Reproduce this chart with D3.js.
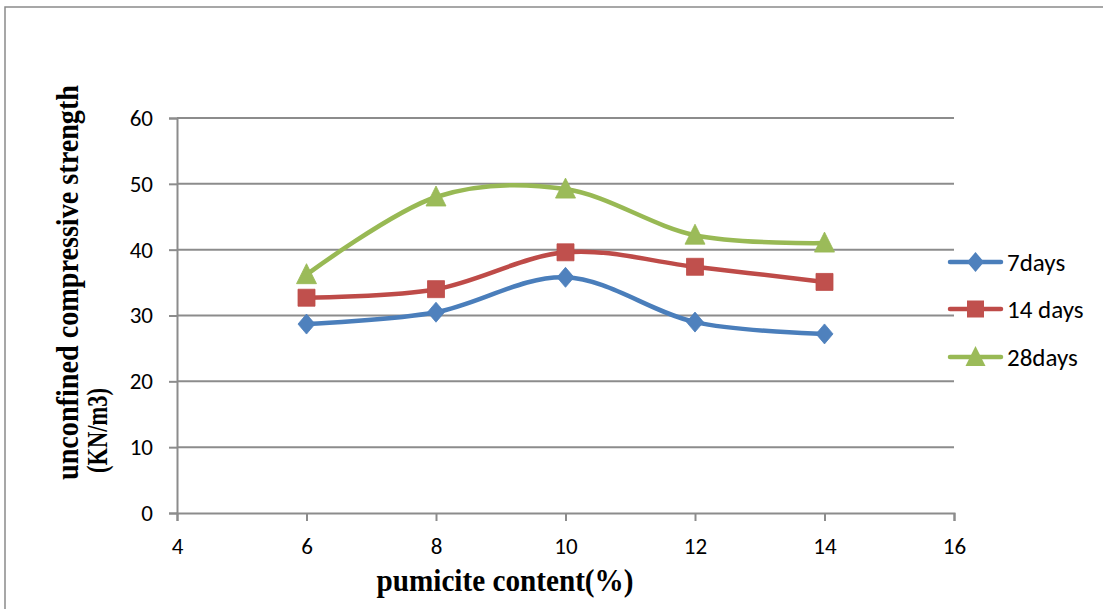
<!DOCTYPE html>
<html>
<head>
<meta charset="utf-8">
<script src="https://cdn.jsdelivr.net/npm/d3@7"></script>
<style>
  html, body { margin: 0; padding: 0; background: #fff; }
  svg { display: block; }
  .tick text { font-family: Carlito, Lato, sans-serif; font-size: 23px; fill: #000; }
</style>
</head>
<body>
<svg id="chart" width="1103" height="609"></svg>
<script>
// Pumicite content (%) on the x axis
const pumicite = [6, 8, 10, 12, 14];

// Unconfined compressive strength per curing period
const days7  = [28.7, 30.5, 35.8, 29.0, 27.2];
const days14 = [32.7, 34.0, 39.6, 37.4, 35.1];
const days28 = [36.2, 48.0, 49.2, 42.2, 41.0];

const seriesNames  = ["7days", "14 days", "28days"];
const seriesColors = ["#4A7EBB", "#BE4B48", "#98B954"];
const markerFills  = ["#4F81BD", "#C0504D", "#9BBB59"];
const markerShapes = ["diamond", "square", "triangle"];

const xTicks = [4, 6, 8, 10, 12, 14, 16];
const yTicks = [0, 10, 20, 30, 40, 50, 60];

const svg = d3.select("#chart");
const W = 1103, H = 609;

// chart frame
svg.append("rect")
  .attr("x", 5).attr("y", 7)
  .attr("width", W + 20).attr("height", H + 20)
  .attr("fill", "#fff")
  .attr("stroke", "#8a8a8a").attr("stroke-width", 1.5);

const x = d3.scaleLinear().domain([4, 16]).range([177, 954]);
const y = d3.scaleLinear().domain([0, 60]).range([513, 118]);
const axisColor = "#8c8c8c";

// horizontal gridlines
svg.append("g").selectAll("line")
  .data(yTicks.filter(v => v > 0))
  .join("line")
  .attr("x1", x(4)).attr("x2", x(16))
  .attr("y1", d => y(d)).attr("y2", d => y(d))
  .attr("stroke", axisColor).attr("stroke-width", 2);

// y axis
const yAxis = svg.append("g")
  .attr("transform", `translate(${x(4)},0)`)
  .call(d3.axisLeft(y).tickValues(yTicks).tickSize(8).tickPadding(16));
yAxis.select(".domain").attr("stroke", axisColor).attr("stroke-width", 2);
yAxis.selectAll(".tick line").attr("stroke", axisColor).attr("stroke-width", 2);

// x axis
const xAxis = svg.append("g")
  .attr("transform", `translate(0,${y(0)})`)
  .call(d3.axisBottom(x).tickValues(xTicks).tickSize(8).tickPadding(17));
xAxis.select(".domain").attr("stroke", axisColor).attr("stroke-width", 2);
xAxis.selectAll(".tick line").attr("stroke", axisColor).attr("stroke-width", 2);

// smoothed series lines
const line = d3.line()
  .x(d => x(d[0])).y(d => y(d[1]))
  .curve(d3.curveCardinal.tension(0));

const allSeries = [days7, days14, days28];

function markerPath(shape) {
  if (shape === "diamond") return "M0,-10 L8.5,0 L0,10 L-8.5,0 Z";
  if (shape === "square") return "M-8.5,-8.5 L8.5,-8.5 L8.5,8.5 L-8.5,8.5 Z";
  return "M0,-11 L10,9 L-10,9 Z";
}

allSeries.forEach((vals, i) => {
  const pts = pumicite.map((p, j) => [p, vals[j]]);
  svg.append("path")
    .attr("d", line(pts))
    .attr("fill", "none")
    .attr("stroke", seriesColors[i])
    .attr("stroke-width", 4.5)
    .attr("stroke-linecap", "round");
});

allSeries.forEach((vals, i) => {
  const pts = pumicite.map((p, j) => [p, vals[j]]);
  svg.append("g").selectAll("path")
    .data(pts)
    .join("path")
    .attr("transform", d => `translate(${x(d[0])},${y(d[1])})`)
    .attr("d", markerPath(markerShapes[i]))
    .attr("fill", markerFills[i])
    .attr("stroke", seriesColors[i]).attr("stroke-width", 0.8);
});

// legend
const legendY = [262, 309, 357];
seriesNames.forEach((name, i) => {
  const g = svg.append("g").attr("transform", `translate(0,${legendY[i]})`);
  g.append("line")
    .attr("x1", 950).attr("x2", 1001).attr("y1", 0).attr("y2", 0)
    .attr("stroke", seriesColors[i]).attr("stroke-width", 4.5)
    .attr("stroke-linecap", "round");
  g.append("path")
    .attr("transform", "translate(975.5,0)")
    .attr("d", markerPath(markerShapes[i]))
    .attr("fill", markerFills[i]);
  g.append("text")
    .attr("x", 1007).attr("y", 0).attr("dy", "0.36em")
    .attr("font-family", "Carlito, Lato, sans-serif")
    .attr("font-size", 25)
    .text(name);
});

// axis titles
const serif = "'Liberation Serif', 'Times New Roman', serif";
svg.append("text")
  .attr("x", 505).attr("y", 591)
  .attr("text-anchor", "middle")
  .attr("font-family", serif)
  .attr("font-weight", "bold").attr("font-size", 31)
  .attr("textLength", 257).attr("lengthAdjust", "spacingAndGlyphs")
  .text("pumicite content(%)");

const yTitle = svg.append("g").attr("transform", "rotate(-90)");
yTitle.append("text")
  .attr("x", -480).attr("y", 78)
  .attr("font-family", serif)
  .attr("font-weight", "bold").attr("font-size", 31)
  .attr("textLength", 395).attr("lengthAdjust", "spacingAndGlyphs")
  .text("unconfined compressive strength");
yTitle.append("text")
  .attr("x", -473).attr("y", 107)
  .attr("font-family", serif)
  .attr("font-weight", "bold").attr("font-size", 30)
  .attr("textLength", 85).attr("lengthAdjust", "spacingAndGlyphs")
  .text("(KN/m3)");
</script>
</body>
</html>
